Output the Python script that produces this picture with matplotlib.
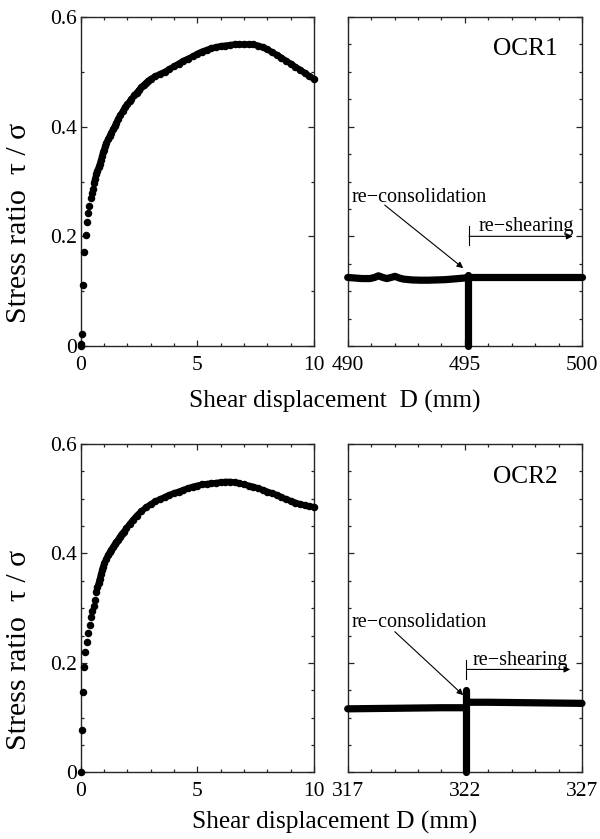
import matplotlib
matplotlib.use("Agg")
import matplotlib.pyplot as plt
from matplotlib.ticker import MultipleLocator

plt.rcParams['font.family'] = ['Liberation Serif', 'DejaVu Serif']

# ---------------- data ----------------
# OCR1 initial shearing (left top)
d_ocr1 = [0.0, 0.0, 0.06, 0.11, 0.14, 0.21, 0.27, 0.31, 0.37, 0.43, 0.48, 0.53, 0.57,
          0.62, 0.67, 0.72, 0.77, 0.82, 0.87, 0.92, 0.96, 1.0, 1.05, 1.1, 1.17, 1.24,
          1.31, 1.39, 1.46, 1.53, 1.6, 1.7, 1.8, 1.89, 2.0, 2.1, 2.17, 2.3, 2.4, 2.5,
          2.6, 2.7, 2.8, 2.9, 3.0, 3.2, 3.4, 3.6, 3.8, 4.0, 4.2, 4.4, 4.6, 4.8, 5.0,
          5.2, 5.4, 5.6, 5.8, 6.0, 6.2, 6.4, 6.6, 6.8, 7.0, 7.2, 7.4, 7.6, 7.8, 8.0,
          8.2, 8.4, 8.6, 8.8, 9.0, 9.2, 9.4, 9.6, 9.8, 10.0]
r_ocr1 = [0.0, 0.004, 0.021, 0.111, 0.172, 0.203, 0.226, 0.242, 0.256, 0.269, 0.279,
          0.287, 0.297, 0.305, 0.313, 0.320, 0.326, 0.332, 0.339, 0.346, 0.353, 0.358,
          0.364, 0.370, 0.377, 0.383, 0.389, 0.395, 0.401, 0.407, 0.414, 0.421, 0.428,
          0.435, 0.441, 0.446, 0.450, 0.457, 0.462, 0.467, 0.472, 0.476, 0.480, 0.484,
          0.487, 0.492, 0.496, 0.500, 0.505, 0.510, 0.515, 0.520, 0.524, 0.528, 0.533,
          0.537, 0.540, 0.543, 0.545, 0.547, 0.548, 0.549, 0.550, 0.550, 0.550, 0.550,
          0.550, 0.548, 0.545, 0.541, 0.536, 0.531, 0.526, 0.520, 0.515, 0.509, 0.504,
          0.498, 0.492, 0.487]

# OCR2 initial shearing (left bottom)
d_ocr2 = [0.0, 0.06, 0.10, 0.14, 0.20, 0.26, 0.31, 0.38, 0.44, 0.50, 0.56, 0.60, 0.67,
          0.72, 0.77, 0.82, 0.87, 0.92, 0.96, 1.02, 1.1, 1.17, 1.24, 1.31, 1.39, 1.46,
          1.53, 1.6, 1.67, 1.75, 1.85, 1.96, 2.1, 2.24, 2.4, 2.6, 2.8, 3.0, 3.2, 3.4,
          3.6, 3.8, 4.0, 4.2, 4.4, 4.6, 4.8, 5.0, 5.2, 5.4, 5.6, 5.8, 6.0, 6.2, 6.4,
          6.6, 6.8, 7.0, 7.2, 7.4, 7.6, 7.8, 8.0, 8.2, 8.4, 8.6, 8.8, 9.0, 9.2, 9.4,
          9.6, 9.8, 10.0]
r_ocr2 = [0.0, 0.077, 0.147, 0.192, 0.220, 0.239, 0.255, 0.270, 0.283, 0.295, 0.304,
          0.315, 0.330, 0.338, 0.346, 0.354, 0.362, 0.369, 0.376, 0.382, 0.390, 0.397,
          0.402, 0.407, 0.412, 0.417, 0.421, 0.425, 0.430, 0.435, 0.440, 0.446, 0.454,
          0.461, 0.469, 0.477, 0.484, 0.490, 0.495, 0.499, 0.503, 0.507, 0.510, 0.513,
          0.516, 0.519, 0.522, 0.524, 0.526, 0.527, 0.528, 0.529, 0.530, 0.531, 0.531,
          0.530, 0.528, 0.526, 0.524, 0.522, 0.519, 0.516, 0.513, 0.510, 0.507, 0.503,
          0.499, 0.496, 0.493, 0.490, 0.488, 0.486, 0.485]

# OCR1 long-displacement segment (right top)
d1_pre = [490.0, 490.3, 490.6, 490.95, 491.15, 491.31, 491.5, 491.67, 491.85, 492.02,
          492.2, 492.38, 492.74, 493.1, 493.45, 493.8, 494.16, 494.45, 494.73, 495.0,
          495.15]
r1_pre = [0.125, 0.124, 0.123, 0.123, 0.125, 0.128, 0.125, 0.123, 0.125, 0.127,
          0.124, 0.122, 0.1205, 0.120, 0.120, 0.1205, 0.121, 0.122, 0.123, 0.124, 0.126]
d1_rec = [495.15, 495.15]
r1_rec = [0.0, 0.130]
d1_post = [495.15, 496.0, 497.0, 498.0, 499.0, 500.0]
r1_post = [0.125, 0.125, 0.125, 0.125, 0.125, 0.125]

# OCR2 long-displacement segment (right bottom)
d2_pre = [317.0, 318.0, 319.0, 320.0, 321.0, 322.07]
r2_pre = [0.116, 0.1165, 0.117, 0.1175, 0.118, 0.118]
d2_rec = [322.07, 322.07]
r2_rec = [0.0, 0.150]
d2_post = [322.07, 323.0, 324.0, 325.0, 326.0, 327.0]
r2_post = [0.128, 0.128, 0.1275, 0.127, 0.1265, 0.126]

left_xticks = [0, 5, 10]
right_xticks_1 = [490, 495, 500]
right_xticks_2 = [317, 322, 327]
yticks = [0, 0.2, 0.4, 0.6]
ytick_labels = ['0', '0.2', '0.4', '0.6']

# ---------------- figure ----------------
W, H = 600, 839
fig = plt.figure(figsize=(W / 100, H / 100), dpi=100)

def box(x0, y0, x1, y1):
    return [x0 / W, 1 - y1 / H, (x1 - x0) / W, (y1 - y0) / H]

ax_tl = fig.add_axes(box(80.7, 17, 314, 346))
ax_tr = fig.add_axes(box(347.7, 17, 582, 346))
ax_bl = fig.add_axes(box(80.7, 444, 314, 772.3))
ax_br = fig.add_axes(box(347.7, 444, 582, 772.3))

TICK_FS = 15.5
LABEL_FS = 18.3
edge = '#262626'

def style(ax, xlim, xticks, yminor, show_ylabels):
    ax.set_xlim(*xlim)
    ax.set_ylim(0, 0.6)
    ax.set_xticks(xticks)
    ax.set_xticklabels([str(t) for t in xticks])
    ax.xaxis.set_minor_locator(MultipleLocator(1))
    ax.set_yticks(yticks)
    ax.yaxis.set_minor_locator(MultipleLocator(yminor))
    if show_ylabels:
        ax.set_yticklabels(ytick_labels)
    else:
        ax.set_yticklabels([])
    ax.tick_params(which='both', direction='in', top=True, right=True,
                   color=edge, width=0.9, labelsize=TICK_FS, labelcolor='black')
    ax.tick_params(which='major', length=4.5)
    ax.tick_params(which='minor', length=2.5)
    ax.tick_params(axis='x', which='major', pad=7)
    ax.tick_params(axis='y', which='major', pad=2.5)
    for s in ax.spines.values():
        s.set_color(edge)
        s.set_linewidth(1.0)
    ax.set_facecolor('white')

style(ax_tl, (0, 10), left_xticks, 0.1, True)
style(ax_tr, (490, 500), right_xticks_1, 0.05, False)
style(ax_bl, (0, 10), left_xticks, 0.05, True)
style(ax_br, (317, 327), right_xticks_2, 0.05, False)

# left panels: scatter points (dense part merges into a band)
for ax, d, r in [(ax_tl, d_ocr1, r_ocr1), (ax_bl, d_ocr2, r_ocr2)]:
    ax.plot(d, r, linestyle='none', marker='o', markersize=4.4,
            color='black', clip_on=False, zorder=3)
    ax.plot(d[12:], r[12:], linestyle='-', linewidth=4.4, color='black',
            solid_capstyle='round', solid_joinstyle='round', zorder=3, clip_on=False)

# right panels: dense records drawn as thick traces
for ax, segs in [(ax_tr, [(d1_pre, r1_pre), (d1_rec, r1_rec), (d1_post, r1_post)]),
                 (ax_br, [(d2_pre, r2_pre), (d2_rec, r2_rec), (d2_post, r2_post)])]:
    for d, r in segs:
        ax.plot(d, r, linestyle='-', linewidth=5.2, color='black',
                solid_capstyle='round', solid_joinstyle='round',
                clip_on=False, zorder=3)

ANN_FS = 14.5

def annotate(ax, xl, xr, cons_xy, cons_arrow, shear_text_xy, shear_y, tick_y, name, name_xy):
    ax.text(cons_xy[0], cons_xy[1], 're\u2212consolidation', fontsize=ANN_FS,
            ha='left', va='baseline')
    ax.annotate('', xy=cons_arrow[1], xytext=cons_arrow[0],
                arrowprops=dict(arrowstyle='-|>', color='black', lw=0.8,
                                mutation_scale=9, shrinkA=0, shrinkB=0))
    ax.text(shear_text_xy[0], shear_text_xy[1], 're\u2212shearing', fontsize=ANN_FS,
            ha='left', va='baseline')
    ax.annotate('', xy=(xr, shear_y), xytext=(xl, shear_y),
                arrowprops=dict(arrowstyle='-|>', color='black', lw=0.8,
                                mutation_scale=9, shrinkA=0, shrinkB=0))
    ax.plot([xl, xl], tick_y, color='black', lw=0.8)
    ax.text(name_xy[0], name_xy[1], name, fontsize=18.3, ha='left', va='baseline')

annotate(ax_tr, 495.18, 499.6, (490.16, 0.263), ((491.58, 0.257), (494.93, 0.142)),
         (495.57, 0.210), 0.2, (0.184, 0.219), 'OCR1', (496.2, 0.531))
annotate(ax_br, 322.07, 326.5, (317.16, 0.265), ((319.01, 0.257), (321.93, 0.141)),
         (322.33, 0.196), 0.188, (0.171, 0.206), 'OCR2', (323.2, 0.529))

# axis titles
fig.text(335 / W, 1 - 401 / H, 'Shear displacement  D (mm)', fontsize=LABEL_FS,
         ha='center', va='center')
fig.text(335 / W, 1 - 822 / H, 'Shear displacement D (mm)', fontsize=LABEL_FS,
         ha='center', va='center')
fig.text(19 / W, 1 - 223 / H, 'Stress ratio  τ / σ', fontsize=21.5,
         ha='center', va='center', rotation=90)
fig.text(19 / W, 1 - 650 / H, 'Stress ratio  τ / σ', fontsize=21.5,
         ha='center', va='center', rotation=90)

fig.savefig('out.png', dpi=100, facecolor='white')
